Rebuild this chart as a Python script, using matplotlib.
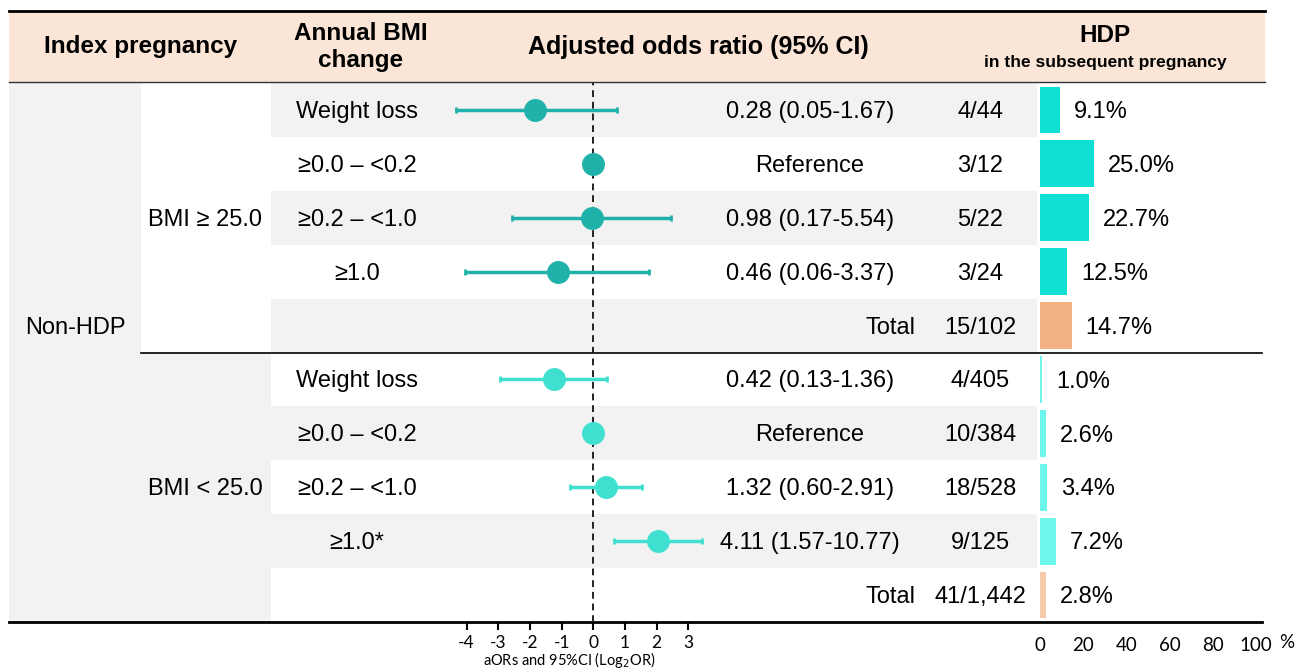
import matplotlib.pyplot as plt
import numpy as np

# ---- data ----
index_group = "Non-HDP"
bmi_groups = ["BMI ≥ 25.0", "BMI < 25.0"]
bmi_change = ["Weight loss", "≥0.0 – <0.2", "≥0.2 – <1.0", "≥1.0", "",
              "Weight loss", "≥0.0 – <0.2", "≥0.2 – <1.0", "≥1.0*", ""]
odds = [0.28, 1.0, 0.98, 0.46, None, 0.42, 1.0, 1.32, 4.11, None]
ci_low = [0.05, None, 0.17, 0.06, None, 0.13, None, 0.60, 1.57, None]
ci_high = [1.67, None, 5.54, 3.37, None, 1.36, None, 2.91, 10.77, None]
is_ref = [False, True, False, False, False, False, True, False, False, False]
is_total = [False, False, False, False, True, False, False, False, False, True]
counts = ["4/44", "3/12", "5/22", "3/24", "15/102",
          "4/405", "10/384", "18/528", "9/125", "41/1,442"]
hdp_pct = [9.1, 25.0, 22.7, 12.5, 14.7, 1.0, 2.6, 3.4, 7.2, 2.8]
or_ticks = [-4, -3, -2, -1, 0, 1, 2, 3]
pct_ticks = [0, 20, 40, 60, 80, 100]

# ---- colours ----
header_fill = "#FBE5D6"
grey = "#F2F2F2"
dot_colors = ["#20B2AA", "#40E0D0"]
bar_colors = ["#10E0D3", "#6FF6EC"]
total_colors = ["#F4B183", "#F8CBAD"]

BODY = "Liberation Sans"
AXF = "Lato"

W, H = 1298, 671
row_top, row_h = 83, 53.9
n = len(counts)
y_bot = row_top + n * row_h
split = row_top + 5 * row_h


def rect(x0, y0, x1, y1):
    return [x0 / W, 1 - y1 / H, (x1 - x0) / W, (y1 - y0) / H]


def row_y(i):
    # text baseline nudge so it sits like the reference
    return row_top + (i + 0.5) * row_h + 2


fig = plt.figure(figsize=(12.98, 6.71), dpi=100)
fig.patch.set_facecolor("white")

# ---- table background ----
bg = fig.add_axes([0, 0, 1, 1])
bg.set_xlim(0, W)
bg.set_ylim(H, 0)
bg.axis("off")

bg.add_patch(plt.Rectangle((9, 11), 1256, 71, color=header_fill, lw=0))
bg.plot([9, 1265], [11, 11], color="black", lw=2)
bg.plot([9, 1265], [82, 82], color="#333333", lw=1)

bg.add_patch(plt.Rectangle((9, row_top), 132, y_bot - row_top, color=grey, lw=0))
bg.add_patch(plt.Rectangle((141, split), 130, y_bot - split, color=grey, lw=0))
for i in [0, 2, 4, 6, 8]:
    bg.add_patch(plt.Rectangle((271, row_top + i * row_h), 766, row_h, color=grey, lw=0))

bg.plot([141, 1262], [split, split], color="black", lw=1.2)
bg.plot([9, 1262], [y_bot, y_bot], color="black", lw=2)

hk = dict(fontfamily=BODY, fontweight="bold", ha="center", va="center")
bg.text(141, 47, "Index pregnancy", fontsize=17.5, **hk)
bg.text(361, 33, "Annual BMI", fontsize=17.5, **hk)
bg.text(361, 61, "change", fontsize=17.5, **hk)
bg.text(698, 47, "Adjusted odds ratio (95% CI)", fontsize=18, **hk)
bg.text(1105, 36, "HDP", fontsize=17.5, **hk)
bg.text(1105, 62, "in the subsequent pregnancy", fontsize=12.5, **hk)

tk = dict(fontfamily=BODY, fontsize=17, va="center")
bg.text(75, 328, index_group, ha="center", **tk)
bg.text(205, row_y(2), bmi_groups[0], ha="center", **tk)
bg.text(205, row_y(7), bmi_groups[1], ha="center", **tk)
for i in range(n):
    y = row_y(i)
    if bmi_change[i]:
        bg.text(357, y, bmi_change[i], ha="center", **tk)
    if is_total[i]:
        bg.text(915, y, "Total", ha="right", **tk)
    elif is_ref[i]:
        bg.text(810, y, "Reference", ha="center", **tk)
    else:
        bg.text(810, y, f"{odds[i]:.2f} ({ci_low[i]:.2f}-{ci_high[i]:.2f})", ha="center", **tk)
    bg.text(980, y, counts[i], ha="center", **tk)
bg.text(1287, 642, "%", fontfamily=AXF, fontsize=13.5, ha="center", va="center")
bg.text(569, 660, "aORs and 95%CI (Log$_2$OR)", fontfamily=AXF, fontsize=10.5,
        ha="center", va="center")

# ---- forest plot ----
x0_px, unit_px = 593.3, 31.66
fx0, fx1 = 271, 1037
ax = fig.add_axes(rect(fx0, row_top, fx1, y_bot))
ax.set_facecolor("none")
ax.set_xlim((fx0 - x0_px) / unit_px, (fx1 - x0_px) / unit_px)
ax.set_ylim(n - 0.5, -0.5)
for s in ax.spines.values():
    s.set_visible(False)
ax.axvline(0, color="#222222", ls=(0, (3.5, 2.5)), lw=1.4, zorder=1)
for i in range(n):
    if odds[i] is None:
        continue
    c = dot_colors[0] if i < 5 else dot_colors[1]
    x = np.log2(odds[i])
    if is_ref[i]:
        ax.plot(x, i, "o", ms=15.5, color=c, zorder=3)
    else:
        lo, hi = np.log2(ci_low[i]), np.log2(ci_high[i])
        ax.errorbar(x, i, xerr=[[x - lo], [hi - x]], fmt="o", ms=15.5, color=c,
                    elinewidth=2.5, capsize=2.5, capthick=2, zorder=3)
ax.set_yticks([])
ax.set_xticks(or_ticks)
ax.set_xticklabels([str(t) for t in or_ticks], fontfamily=AXF, fontsize=12.5)
ax.tick_params(axis="x", length=6, width=1.5, direction="out", pad=3)

# ---- HDP bars ----
bx = fig.add_axes(rect(1040, row_top, 1256, y_bot))
bx.set_facecolor("none")
bx.set_xlim(0, 100)
bx.set_ylim(n - 0.5, -0.5)
for s in bx.spines.values():
    s.set_visible(False)
colors = []
for i in range(n):
    g = 0 if i < 5 else 1
    colors.append(total_colors[g] if is_total[i] else bar_colors[g])
bx.barh(range(n), hdp_pct, height=0.87, color=colors)
for i, p in enumerate(hdp_pct):
    bx.annotate(f"{p:.1f}%", (p, i + 0.04), xytext=(10, 0), textcoords="offset points",
                va="center", fontfamily=BODY, fontsize=17)
bx.set_yticks([])
bx.set_xticks(pct_ticks)
bx.set_xticklabels([str(t) for t in pct_ticks], fontfamily=AXF, fontsize=13.5)
bx.tick_params(axis="x", length=0, pad=11)

fig.savefig("out.png", dpi=100)
